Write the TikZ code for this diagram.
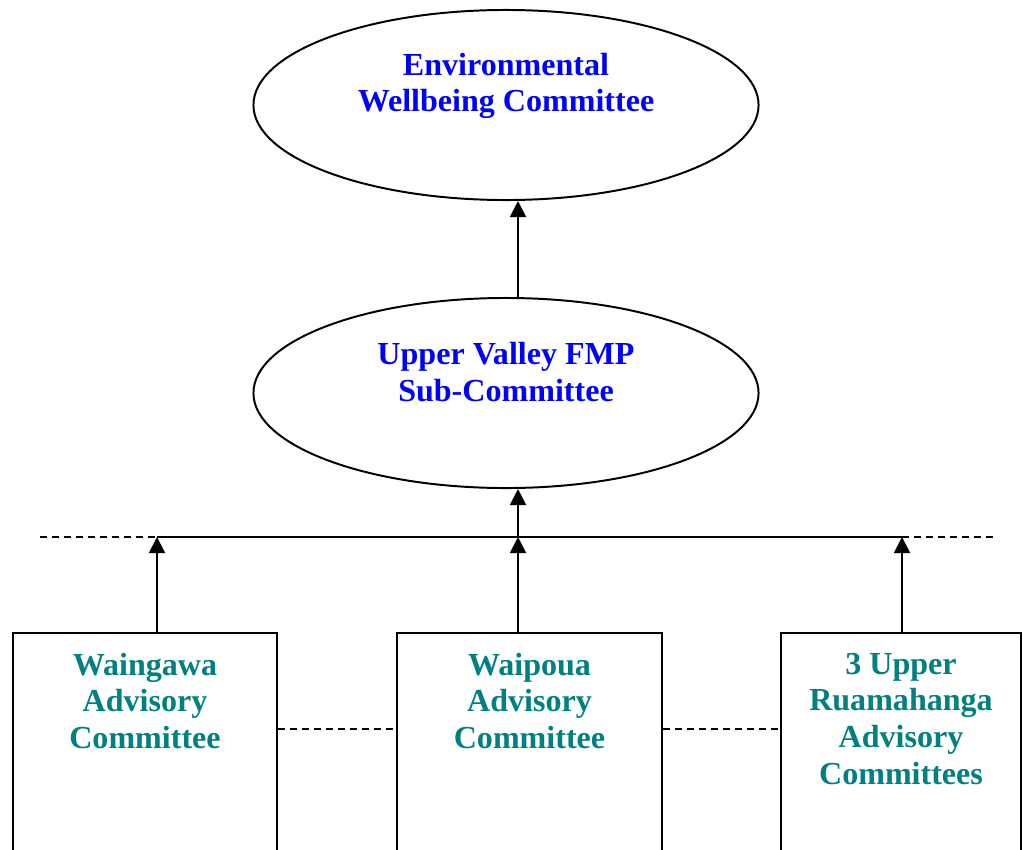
\documentclass[tikz,border=0pt]{standalone}
\usepackage{fontspec}
\setmainfont{Liberation Serif}
\usetikzlibrary {arrows.meta,
                 positioning,
                 shapes.geometric}
\definecolor{cmteblue}{RGB}{0,0,255}
\definecolor{advteal}{RGB}{0,128,128}
\tikzset{
        base/.style={draw, line width=1.4pt, inner sep=0pt},
        txt/.style={align=center, inner sep=0pt,
                    font=\bfseries\fontsize{22.8}{26}\selectfont},
        cmte/.style={base, ellipse, minimum width=12.625cm,
                     minimum height=4.75cm},
        cmtetext/.style={txt, text=cmteblue},
        advbox/.style={base, rectangle, anchor=north,
                       minimum height=7.5cm},
        advtext/.style={txt, text=advteal},
        myarrow/.style={-{Triangle[length=0.4cm, width=0.4cm]},
                        line width=1.4pt},
        link/.style={dash pattern=on 5.3pt off 3.2pt, line width=1.2pt},
 }

\begin{document}
\begin{tikzpicture}[x=0.025cm, y=-0.025cm]
        \useasboundingbox (0,0) rectangle (1023,849);
        \clip (0,0) rectangle (1023,849);

        \node[cmte] (env) at (506,105) {};
        \node[cmtetext] (envtext) at (506,86) {Environmental\\
              Wellbeing Committee};
        \node[cmte] (fmp) at (506,393) {};
        \node[cmtetext] (fmptext) at (506,372) {Upper Valley FMP\\
              Sub-Committee};

        \node[advbox, minimum width=6.6cm] (waing) at (145,632) {};
        \node[advbox, minimum width=6.625cm] (waip) at (529.5,632) {};
        \node[advbox, minimum width=6cm] (ruam) at (901,632) {};
        \node[advtext, below=0.52cm of waing.north] (waingtext)
             {Waingawa\\Advisory\\Committee};
        \node[advtext, below=0.52cm of waip.north] (waiptext)
             {Waipoua\\Advisory\\Committee};
        \node[advtext, below=0.52cm of ruam.north] (ruamtext)
             {3 Upper\\Ruamahanga\\Advisory\\Committees};

        \coordinate (busL) at (40,537);
        \coordinate (busR) at (993,537);
        \coordinate (jw) at (157,537);
        \coordinate (jm) at (518,537);
        \coordinate (je) at (902,537);

        \draw[link] (busL) -- (jw);
        \draw[line width=1.4pt] (jw) -- (je);
        \draw[link] (je) -- (busR);

        \draw[myarrow] (waing.north -| jw) -- (jw);
        \draw[myarrow] (waip.north -| jm) -- (jm);
        \draw[myarrow] (ruam.north -| je) -- (je);
        \draw[myarrow] (jm) -- (jm |- fmp.south);
        \draw[myarrow] (jm |- fmp.north) -- (jm |- env.south);

        \draw[link] ([yshift=-2.425cm]waing.north east) --
             ([yshift=-2.425cm]waip.north west);
        \draw[link] ([yshift=-2.425cm]waip.north east) --
             ([yshift=-2.425cm]ruam.north west);
\end{tikzpicture}
\end{document}
